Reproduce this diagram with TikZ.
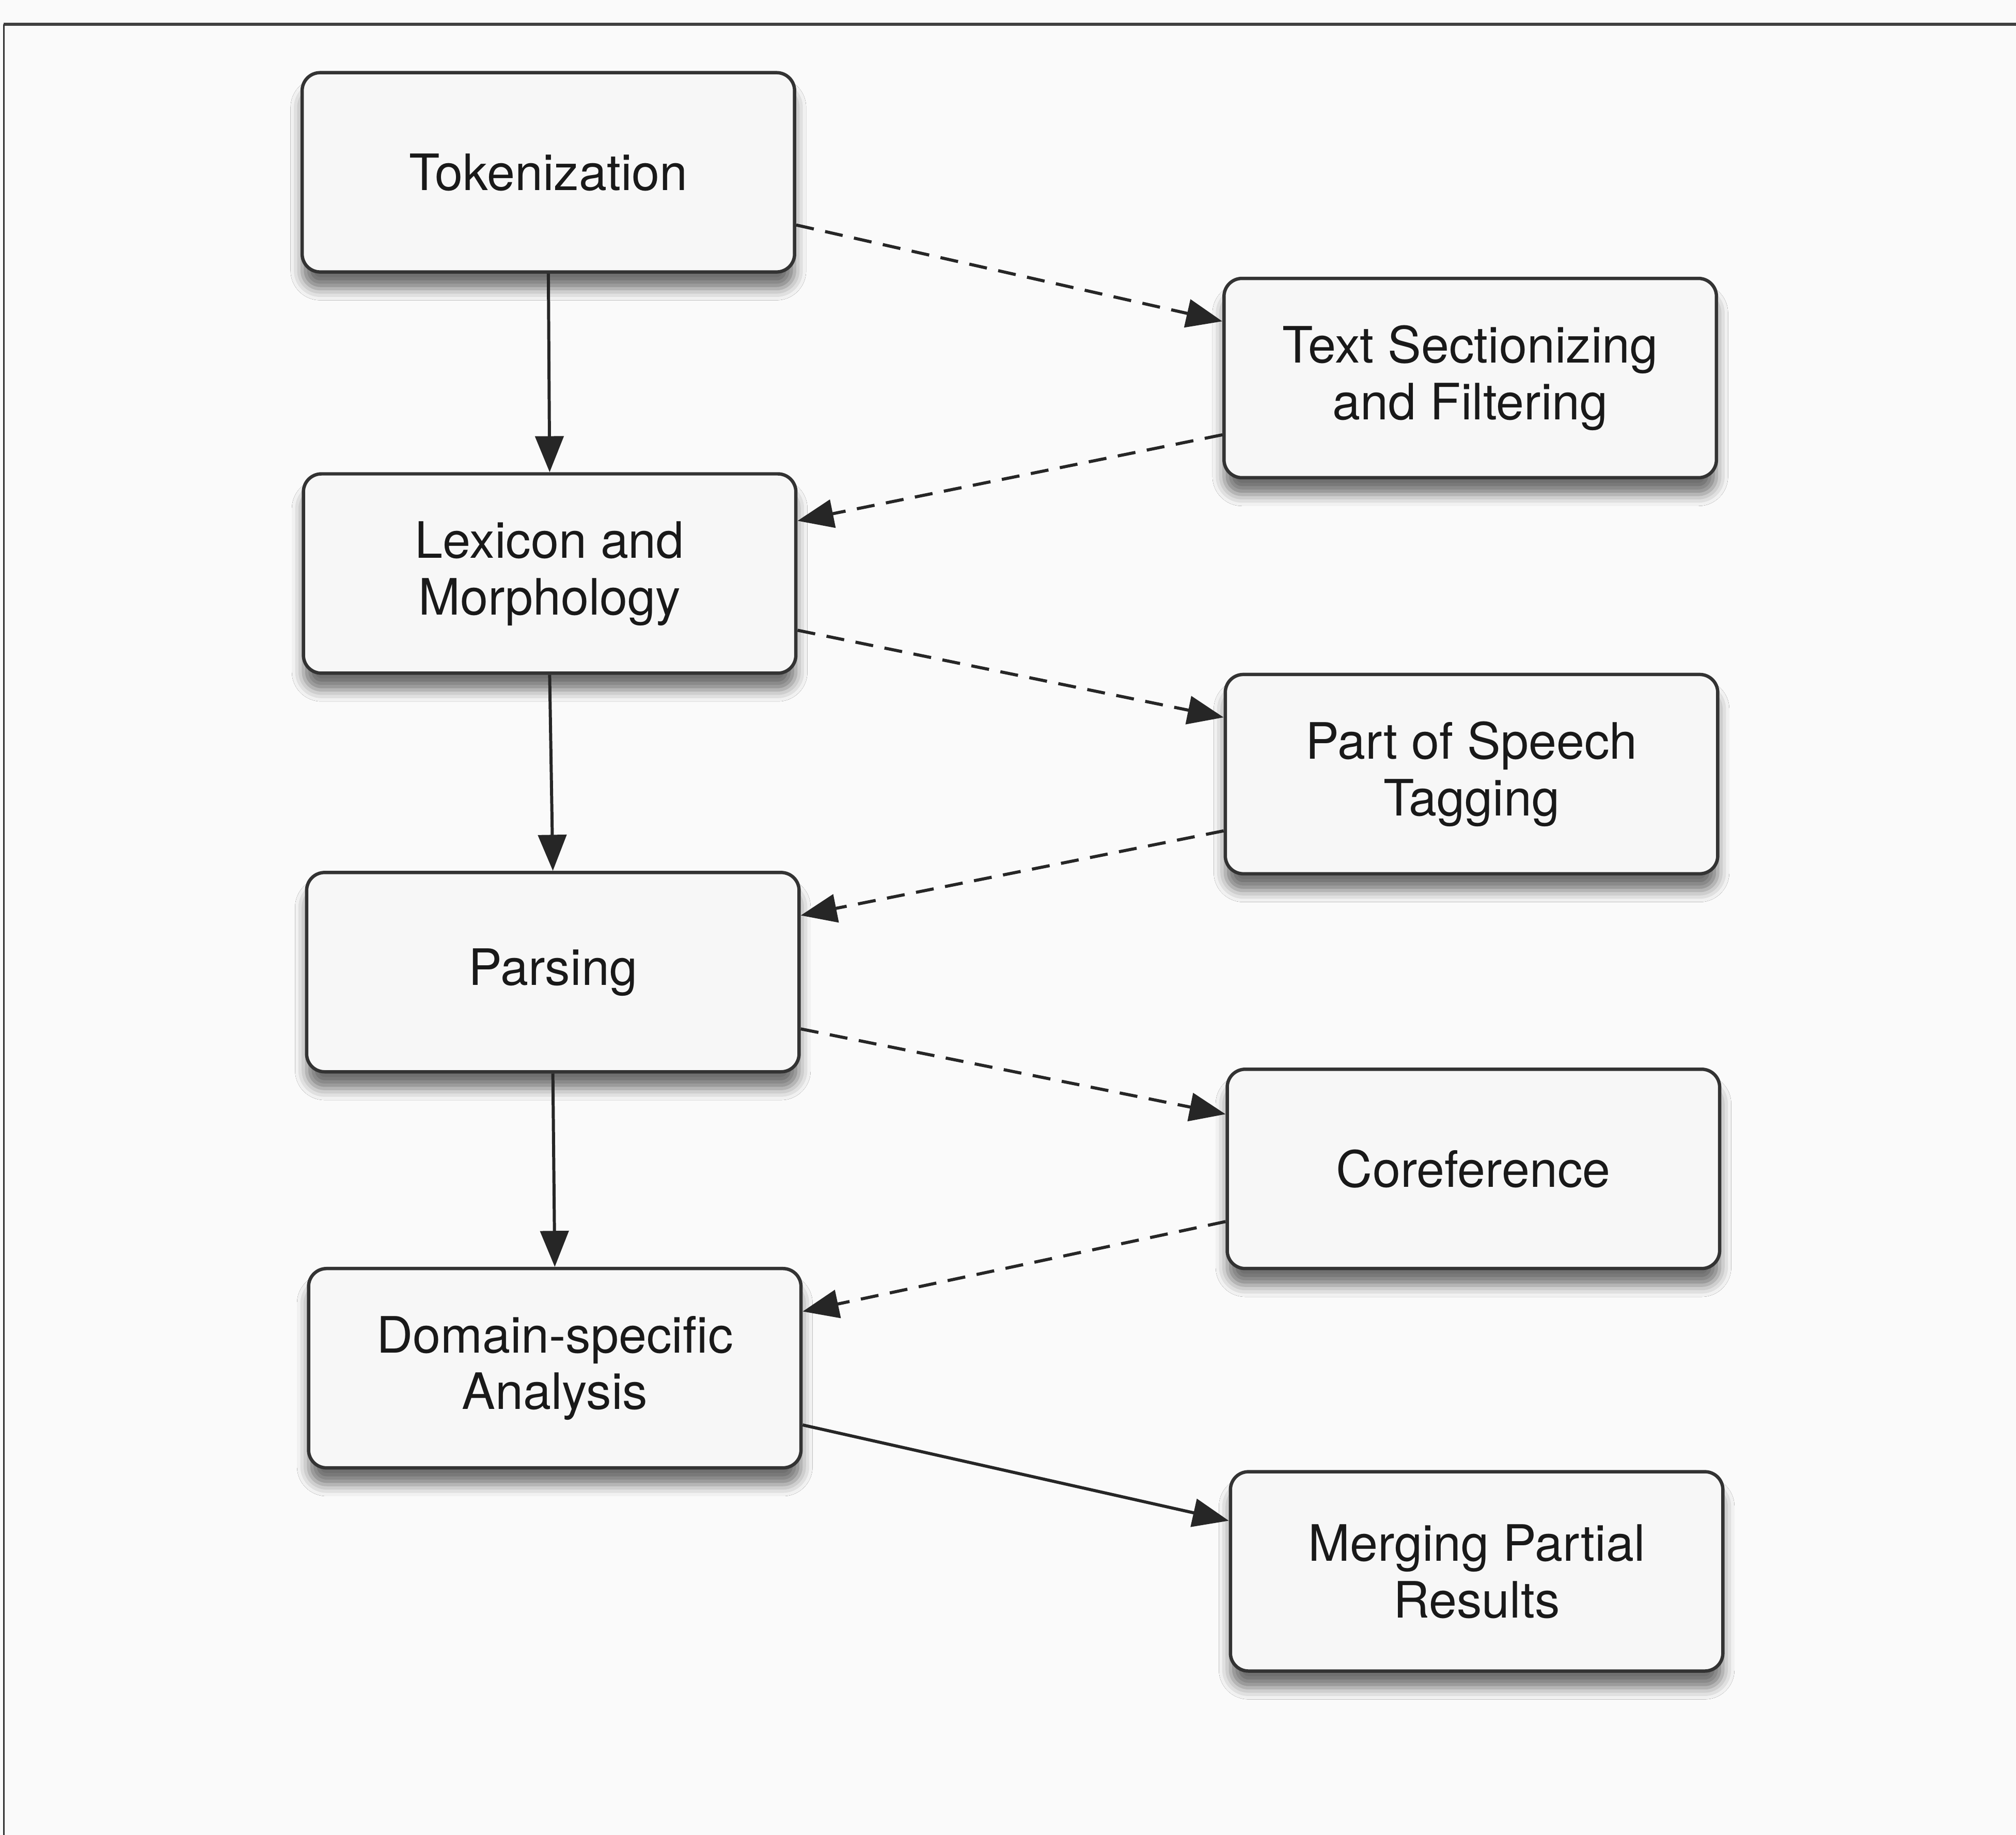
\documentclass[tikz,border=0pt]{standalone}
\usepackage{fontspec}
\setmainfont{TeX Gyre Heros}
\usetikzlibrary{calc,arrows.meta,shadows.blur}
\begin{document}
\begin{tikzpicture}[x=1pt,y=-1pt,
  stage/.style={draw=black!80, line width=2.6pt, rounded corners=14pt, fill=gray!6,
    minimum width=383pt, minimum height=155pt, inner sep=0pt, align=center,
    text=black!90, font=\fontsize{39}{44}\selectfont,
    blur shadow={shadow xshift=0pt, shadow yshift=-13pt, shadow blur radius=9pt, shadow opacity=55}},
  flow/.style={line width=2.4pt, draw=black!85, -{Triangle[length=28pt,width=22pt]}},
  opt/.style={flow, dash pattern=on 14pt off 9pt}]
\fill[gray!4] (0,0) rectangle (1568,1427);
\useasboundingbox (0,0) rectangle (1568,1427);
\draw[line width=2.5pt, black!75] (1568,19) -- (3,19);
\draw[line width=1.2pt, black!80] (3,19) -- (3,1427);

\node[stage] (tok) at (426.5,134) {Tokenization};
\node[stage] (sec) at (1143.5,294) {Text Sectionizing\\and Filtering};
\node[stage] (lex) at (427.5,446) {Lexicon and\\Morphology};
\node[stage] (pos) at (1144.5,602) {Part of Speech\\Tagging};
\node[stage] (par) at (430,756) {Parsing};
\node[stage] (cor) at (1146,909) {Coreference};
\node[stage] (dom) at (431.5,1064) {Domain-specific\\Analysis};
\node[stage] (mer) at (1148.5,1222) {Merging Partial\\Results};

\draw[flow] (tok.south) -- (lex.north);
\draw[flow] (lex.south) -- (par.north);
\draw[flow] (par.south) -- (dom.north);

\draw[opt] ($(tok.north east)!0.76!(tok.south east)$) -- ($(sec.north west)!0.22!(sec.south west)$);
\draw[opt] ($(sec.north west)!0.78!(sec.south west)$) -- ($(lex.north east)!0.24!(lex.south east)$);
\draw[opt] ($(lex.north east)!0.78!(lex.south east)$) -- ($(pos.north west)!0.22!(pos.south west)$);
\draw[opt] ($(pos.north west)!0.78!(pos.south west)$) -- ($(par.north east)!0.22!(par.south east)$);
\draw[opt] ($(par.north east)!0.78!(par.south east)$) -- ($(cor.north west)!0.23!(cor.south west)$);
\draw[opt] ($(cor.north west)!0.76!(cor.south west)$) -- ($(dom.north east)!0.22!(dom.south east)$);
\draw[flow] ($(dom.north east)!0.78!(dom.south east)$) -- ($(mer.north west)!0.25!(mer.south west)$);
\end{tikzpicture}
\end{document}
